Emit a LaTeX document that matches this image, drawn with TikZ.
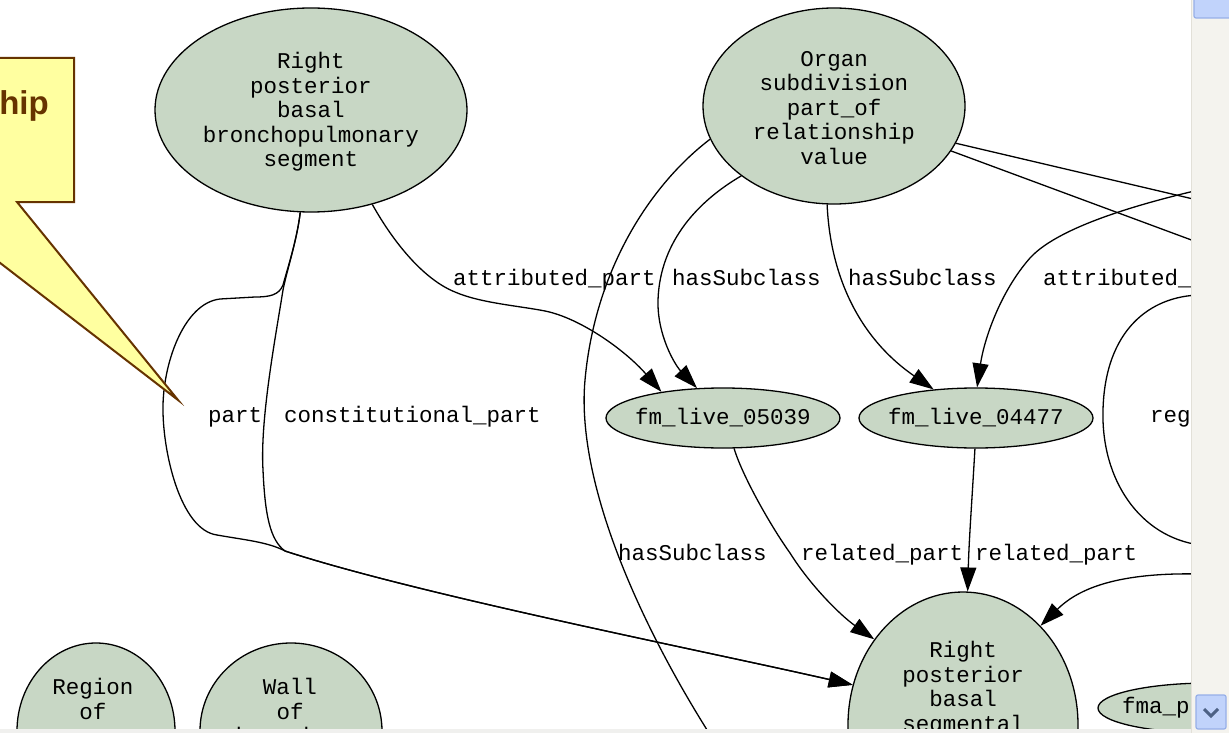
\documentclass[tikz,border=0pt]{standalone}
\usepackage{fontspec}
\newfontfamily\graphfont{Liberation Mono}
\newfontfamily\notefont{Liberation Sans}
\usetikzlibrary{arrows.meta,shapes.geometric}
\definecolor{nodefill}{RGB}{200,215,197}
\definecolor{notefill}{RGB}{255,255,160}
\definecolor{notebrown}{RGB}{102,51,0}
\definecolor{trackgrey}{RGB}{244,243,238}
\definecolor{trackline}{RGB}{226,224,216}
\definecolor{bandgrey}{RGB}{240,240,238}
\definecolor{btnblue}{RGB}{193,211,251}
\definecolor{btnedge}{RGB}{150,175,232}
\definecolor{chevron}{RGB}{77,97,133}

\begin{document}
\begin{tikzpicture}[x=1pt,y=-1pt,
  gnode/.style={ellipse, draw=black, line width=1.3pt, fill=nodefill, inner sep=0pt},
  lbl/.style={inner sep=0pt, font=\graphfont\fontsize{22.5}{24.5}\selectfont, text=black},
  nodetext/.style={lbl, align=center},
  gline/.style={draw=black, line width=1.3pt},
  edge/.style={gline, -{Triangle[length=24pt,width=16pt]}},
]
\useasboundingbox (0,0) rectangle (1229,733);
\clip (0,0) rectangle (1229,733);
\fill[white] (0,0) rectangle (1229,733);

% ---- graph nodes ----
\node[gnode, minimum width=312pt, minimum height=204pt,
  label={[nodetext, yshift=-2pt]center:{Right\\posterior\\basal\\bronchopulmonary\\segment}}] (A) at (311,110) {};
\node[gnode, minimum width=262pt, minimum height=196pt,
  label={[nodetext, yshift=-2pt]center:{Organ\\subdivision\\part\_of\\relationship\\value}}] (B) at (834,106) {};
\node[gnode, minimum width=234pt, minimum height=60pt,
  label={[lbl]center:fm\_live\_05039}] (C) at (723,418) {};
\node[gnode, minimum width=234pt, minimum height=60pt,
  label={[lbl]center:fm\_live\_04477}] (D) at (976,418) {};
\node[gnode, minimum width=230pt, minimum height=266pt] (E) at (963,725) {};
\node[nodetext, anchor=north] (Etxt) at (963,641) {Right\\posterior\\basal\\segmental};
\node[gnode, minimum width=224pt, minimum height=50pt] (F) at (1210,708) {};
\node[lbl, anchor=west] (Ftxt) at (1122,708) {fma\_p};
\node[gnode, minimum width=158pt, minimum height=176pt] (G) at (96,731) {};
\node[nodetext, anchor=north] (Gtxt) at (93,678) {Region\\of\\mucosa};
\node[gnode, minimum width=182pt, minimum height=176pt] (H) at (291,731) {};
\node[nodetext, anchor=north] (Htxt) at (290,678) {Wall\\of\\bronchus};

% free ends of edges running out of view
\coordinate (rA) at (1230,183);
\coordinate (rB1) at (1240,210);
\coordinate (rB2) at (1240,258);
\coordinate (rR1) at (1200,295);
\coordinate (rR2) at (1200,545);
\coordinate (rE) at (1200,574);
\coordinate (bEnd) at (740,780);

% ---- edges ----
% part
\draw[edge] (A.-96) .. controls (297,240) and (287,270) .. (283,285)
  .. controls (279,295) and (270,297) .. (255,297) -- (220,299)
  .. controls (185,303) and (164,360) .. (163,405)
  .. controls (162,450) and (180,530) .. (217,535)
  .. controls (245,540) and (268,542) .. (285,551)
  .. controls (420,595) and (700,650) .. (E.160);
% constitutional_part
\draw[edge] (A.-96) .. controls (297,240) and (287,270) .. (283,290)
  .. controls (275,340) and (260,420) .. (263,470)
  .. controls (265,515) and (270,540) .. (285,551)
  .. controls (420,595) and (700,650) .. (E.160);
% attributed_part
\draw[edge] (A.-57) .. controls (395,245) and (425,280) .. (455,292)
  .. controls (480,303) and (520,306) .. (545,311)
  .. controls (580,318) and (625,350) .. (C.157);
% hasSubclass to fm_live_05039
\draw[edge] (B.217) .. controls (700,200) and (660,240) .. (658,300)
  .. controls (657,335) and (675,365) .. (C.131);
% hasSubclass running down
\draw[gline] (B.195) .. controls (650,185) and (595,270) .. (585,380)
  .. controls (575,490) and (650,650) .. (bEnd);
% hasSubclass to fm_live_04477
\draw[edge] (B.-94) .. controls (830,270) and (855,335) .. (D.146);
% attributed_ from the right
\draw[edge] (rA) .. controls (1150,200) and (1060,225) .. (1030,258)
  .. controls (1000,292) and (984,340) .. (D.88);
% two edges leaving to the right
\draw[gline] (B.-17) -- (rB1);
\draw[gline] (B.-21) -- (rB2);
% reg... loop on the right
\draw[gline] (rR1) .. controls (1150,296) and (1105,330) .. (1103,410)
  .. controls (1101,480) and (1140,537) .. (rR2);
% related_part edges
\draw[edge] (C.-70) .. controls (742,475) and (770,525) .. (790,553)
  .. controls (810,585) and (840,615) .. (E.136);
\draw[edge] (D.-92) .. controls (972,500) and (969,540) .. (E.88);
% edge entering from the right
\draw[edge] (rE) .. controls (1110,572) and (1075,592) .. (E.52);

% ---- edge labels ----
\node[lbl, anchor=base west] (l1) at (453,285) {attributed\_part};
\node[lbl, anchor=base west] (l2) at (672,285) {hasSubclass};
\node[lbl, anchor=base west] (l3) at (848,285) {hasSubclass};
\node[lbl, anchor=base west] (l4) at (1043,285) {attributed\_};
\node[lbl, anchor=base west] (l5) at (208,422) {part};
\node[lbl, anchor=base west] (l6) at (284,422) {constitutional\_part};
\node[lbl, anchor=base west] (l7) at (1150,422) {reg};
\node[lbl, anchor=base west] (l8) at (618,560) {hasSubclass};
\node[lbl, anchor=base west] (l9) at (801,560) {related\_part};
\node[lbl, anchor=base west] (l10) at (975,560) {related\_part};

% ---- callout ----
\filldraw[fill=notefill, draw=notebrown, line width=2pt, line join=miter]
  (-120,58) -- (74,58) -- (74,202) -- (17,202) -- (178,400) -- (-79,202) -- (-120,202) -- cycle;
\node[font=\notefont\bfseries\fontsize{33}{36}\selectfont, text=notebrown,
  anchor=base east, inner sep=0pt] (note) at (49,115) {hip};

% ---- window frame: bottom band and scrollbar ----
\fill[bandgrey] (0,729) rectangle (1229,733);
\fill[trackgrey] (1191,0) rectangle (1229,733);
\draw[trackline, line width=1pt] (1191,0) -- (1191,733);
\filldraw[fill=btnblue, draw=btnedge, line width=1.2pt, rounded corners=2pt] (1194,-6) rectangle (1234,18);
\filldraw[fill=btnblue, draw=btnedge, line width=1.2pt, rounded corners=2pt] (1196,695) rectangle (1226,729);
\draw[chevron, line width=3pt] (1204,709) -- (1211,716) -- (1218,709);
\end{tikzpicture}
\end{document}
